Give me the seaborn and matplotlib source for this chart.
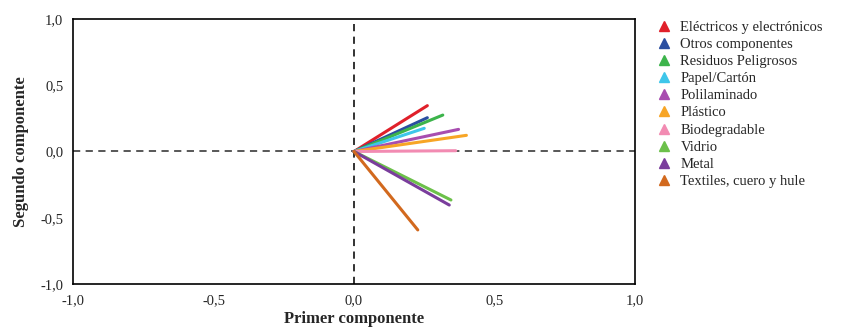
import matplotlib
matplotlib.use("Agg")
import matplotlib.pyplot as plt
from matplotlib.lines import Line2D
import seaborn as sns
import pandas as pd

categories = ["Eléctricos y electrónicos", "Otros componentes", "Residuos Peligrosos",
              "Papel/Cartón", "Polilaminado", "Plástico", "Biodegradable",
              "Vidrio", "Metal", "Textiles, cuero y hule"]
comp1 = [0.261, 0.261, 0.316, 0.250, 0.372, 0.400, 0.362, 0.345, 0.339, 0.227]
comp2 = [0.346, 0.255, 0.275, 0.175, 0.167, 0.122, 0.006, -0.366, -0.404, -0.592]
colors = ["#e0202a", "#2a4ea0", "#3cb44b", "#3ec6ea", "#a84db0", "#f7a526",
          "#f28bb2", "#6cc04a", "#7a3d9c", "#d2691e"]
tick_vals = [-1.0, -0.5, 0.0, 0.5, 1.0]
tick_labels = ["-1,0", "-0,5", "0,0", "0,5", "1,0"]

rows = []
for c, x, y in zip(categories, comp1, comp2):
    rows.append({"cat": c, "x": 0.0, "y": 0.0})
    rows.append({"cat": c, "x": x, "y": y})
df = pd.DataFrame(rows)

sns.set_style("white")
plt.rcParams["font.family"] = ["Liberation Serif", "DejaVu Serif"]

fig = plt.figure(figsize=(8.63, 3.27), dpi=100)
ax = fig.add_axes([0.0846, 0.1315, 0.6512, 0.8104])

ax.axhline(0, color="#4a4a4a", lw=1.3, ls=(0, (4, 3)), zorder=1)
ax.axvline(0, color="#222222", lw=1.3, ls=(0, (4, 3)), zorder=1)

sns.lineplot(data=df, x="x", y="y", hue="cat", hue_order=categories,
             palette=colors, sort=False, estimator=None, units="cat",
             lw=2.2, legend=False, ax=ax, zorder=3)

ax.set_xlim(-1, 1)
ax.set_ylim(-1, 1)
ax.set_xticks(tick_vals)
ax.set_xticklabels(tick_labels, fontsize=10.5)
ax.set_yticks(tick_vals)
ax.set_yticklabels(tick_labels, fontsize=10.5)
ax.tick_params(direction="out", length=5, width=1, color="black", pad=2)
for s in ax.spines.values():
    s.set_color("black")
    s.set_linewidth(1.2)
ax.set_xlabel("Primer componente", fontsize=12, fontweight="bold", labelpad=3)
ax.set_ylabel("Segundo componente", fontsize=12, fontweight="bold", labelpad=8)

handles = [Line2D([], [], ls="none", marker="^", markersize=7.5, color=col,
                  markeredgecolor=col) for col in colors]
fig.legend(handles, categories, loc="upper left", bbox_to_anchor=(0.752, 0.955),
           frameon=False, fontsize=10.5, handletextpad=0.55, labelspacing=0.27,
           borderaxespad=0, handlelength=1.2)

fig.savefig("out.png", dpi=100)
